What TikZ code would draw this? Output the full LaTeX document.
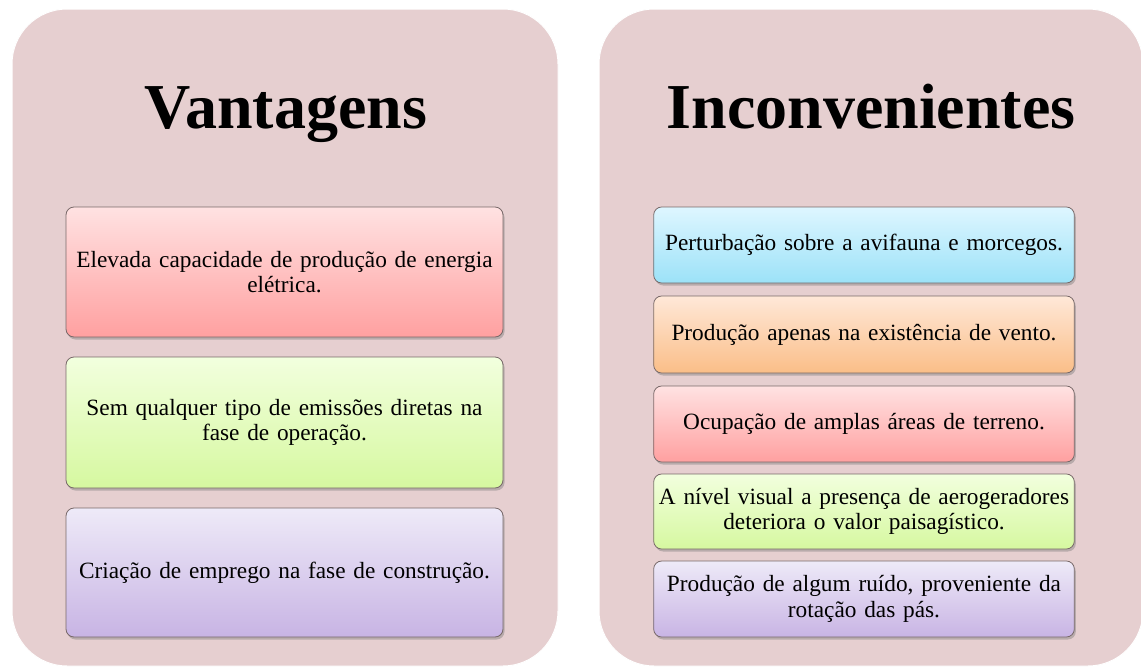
\documentclass[tikz,border=0pt]{standalone}
\usepackage{fontspec}
\setmainfont{Liberation Serif}
\usetikzlibrary{shadows}
\definecolor{panelfill}{RGB}{230,207,208}
\definecolor{boxline}{RGB}{120,105,105}
\tikzset{
  panel/.style={draw=white, line width=1pt, fill=panelfill, rounded corners=55pt,
    drop shadow={shadow xshift=0pt, shadow yshift=0pt, opacity=0.25, fill=black!60}},
  ttl/.style={font=\bfseries\fontsize{64}{70}\selectfont, text=black, anchor=base},
  item/.style={draw=boxline, line width=0.8pt, rounded corners=8pt,
    align=center, font=\fontsize{23.3}{25.5}\selectfont,
    drop shadow={shadow xshift=1.5pt, shadow yshift=-2.5pt, opacity=0.45}},
  redbox/.style={top color={rgb,255:red,255;green,226;blue,226}, bottom color={rgb,255:red,255;green,160;blue,160}},
  greenbox/.style={top color={rgb,255:red,242;green,255;blue,222}, bottom color={rgb,255:red,214;green,248;blue,160}},
  purplebox/.style={top color={rgb,255:red,238;green,234;blue,248}, bottom color={rgb,255:red,200;green,180;blue,228}},
  cyanbox/.style={top color={rgb,255:red,222;green,246;blue,255}, bottom color={rgb,255:red,156;green,226;blue,248}},
  orangebox/.style={top color={rgb,255:red,255;green,232;blue,216}, bottom color={rgb,255:red,250;green,190;blue,136}},
}
\begin{document}
\begin{tikzpicture}[x=1pt,y=-1pt]
\useasboundingbox (0,0) rectangle (1141,672);
\node[panel, minimum width=546pt, minimum height=657pt, inner sep=0pt] (lp) at (285,337.5) {};
\node[panel, minimum width=544pt, minimum height=657pt, inner sep=0pt] (rp) at (871,337.5) {};
\node[ttl] (lt) at (286,128) {Vantagens};
\node[ttl] (rt) at (871,128) {Inconvenientes};
% left items
\node[item, redbox, minimum width=437pt, minimum height=130pt, text width=430pt] (l1) at (284.5,272) {Elevada capacidade de produção de energia\\elétrica.};
\node[item, greenbox, minimum width=437pt, minimum height=131pt, text width=430pt] (l2) at (284.5,422.5) {Sem qualquer tipo de emissões diretas na\\fase de operação.};
\node[item, purplebox, minimum width=437pt, minimum height=129pt, text width=430pt] (l3) at (284.5,572.5) {Criação de emprego na fase de construção.};
% right items
\node[item, cyanbox, minimum width=420pt, minimum height=76pt, text width=414pt] (r1) at (864,245) {Perturbação sobre a avifauna e morcegos.};
\node[item, orangebox, minimum width=420pt, minimum height=77pt, text width=414pt] (r2) at (864,334.5) {Produção apenas na existência de vento.};
\node[item, redbox, minimum width=420pt, minimum height=76pt, text width=414pt] (r3) at (864,424) {Ocupação de amplas áreas de terreno.};
\node[item, greenbox, minimum width=420pt, minimum height=75pt, text width=414pt] (r4) at (864,511.5) {A nível visual a presença de aerogeradores\\deteriora o valor paisagístico.};
\node[item, purplebox, minimum width=420pt, minimum height=76pt, text width=414pt] (r5) at (864,599) {Produção de algum ruído, proveniente da\\rotação das pás.};
\end{tikzpicture}
\end{document}
